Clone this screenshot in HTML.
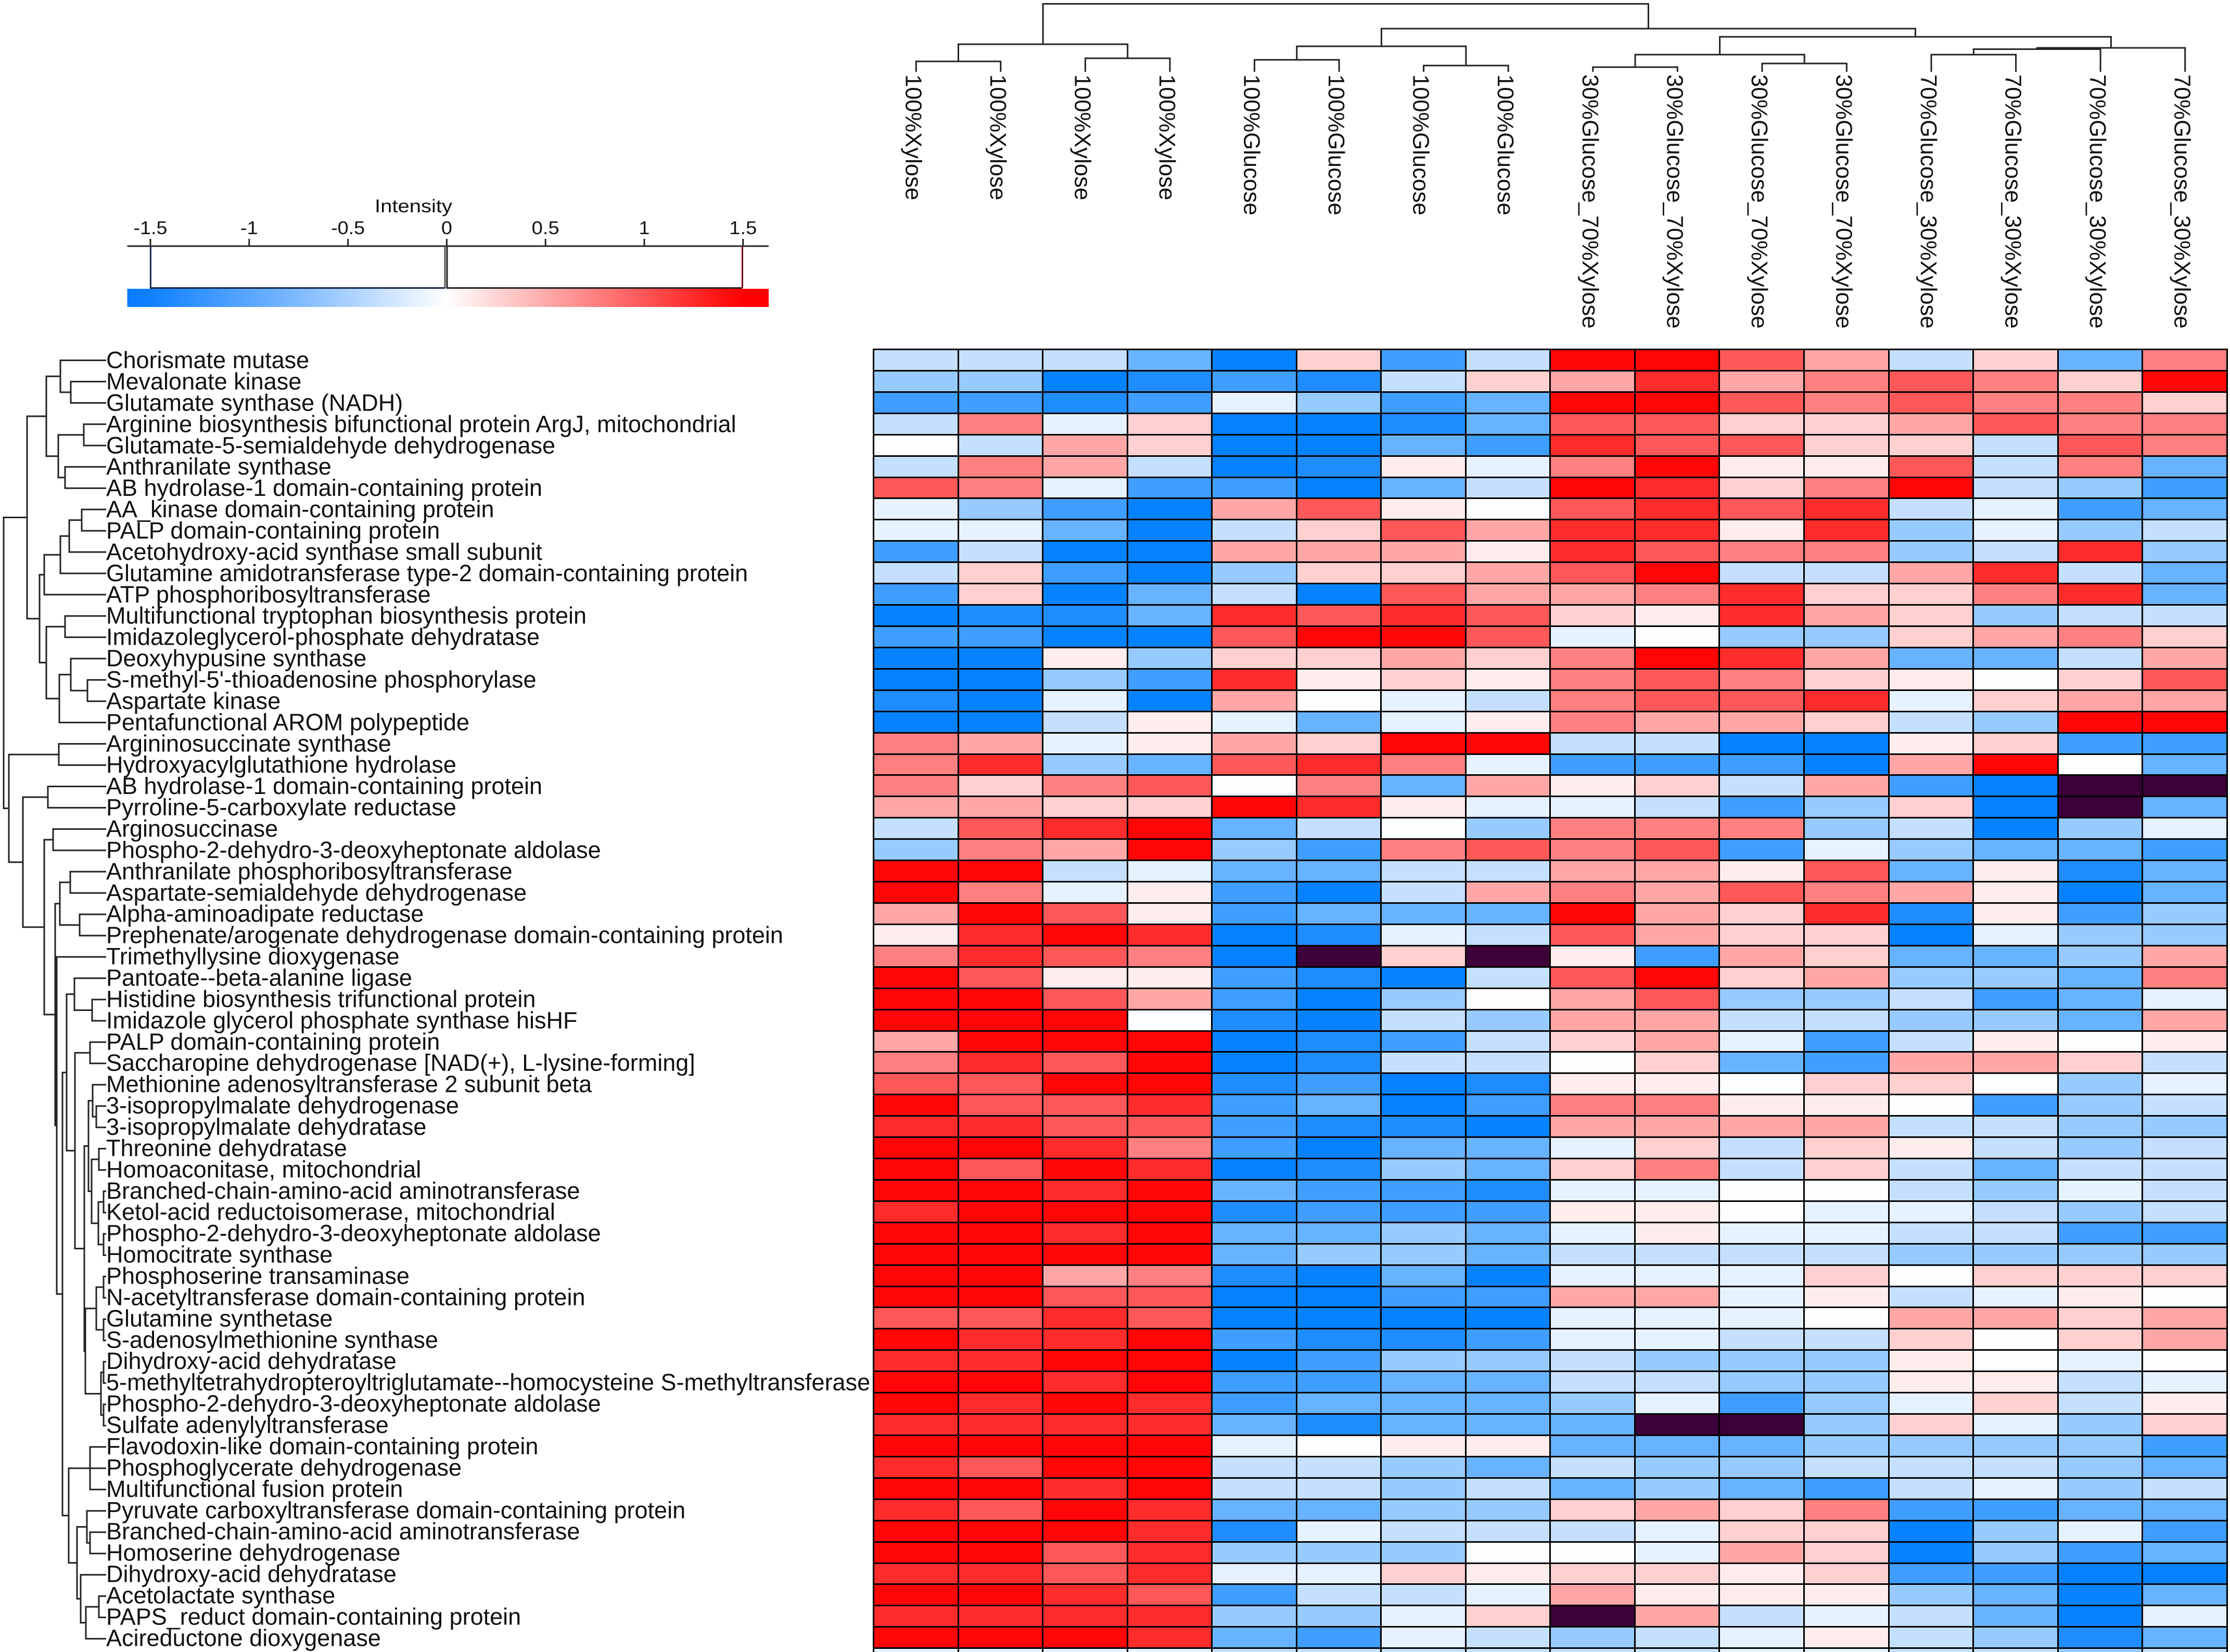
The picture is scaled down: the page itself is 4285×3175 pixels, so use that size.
<!DOCTYPE html>
<html><head><meta charset="utf-8"><style>
html,body{margin:0;padding:0;width:4285px;height:3175px;overflow:hidden;background:#fff}
body{position:relative;font-family:"Liberation Sans",Arial,sans-serif}
svg{position:absolute;left:0;top:0}
#hm{position:absolute;left:1677px;top:670px;display:grid;grid-template-columns:repeat(16,159.56px);grid-template-rows:repeat(62,37.93px);gap:3px;padding:3px;background:#000}
#hm i{display:block}
.a{background:#0582ff}.b{background:#1f8dff}.c{background:#3f9eff}.d{background:#68b3ff}.e{background:#97cbff}.f{background:#c5e0ff}.g{background:#e6f2ff}.w{background:#fdfeff}
.h{background:#ffeded}.i{background:#ffd0d0}.j{background:#ffa7a7}.k{background:#ff8080}.l{background:#ff5858}.m{background:#ff2c2c}.n{background:#ff0606}.x{background:#3d0038}
</style></head><body>
<svg width="4285" height="3175" viewBox="0 0 4285 3175" xmlns="http://www.w3.org/2000/svg">
<defs><linearGradient id="gr" x1="0" x2="1" y1="0" y2="0">
<stop offset="0" stop-color="#0a7cff"/><stop offset="0.036" stop-color="#0f80ff"/><stop offset="0.267" stop-color="#7fbaff"/><stop offset="0.498" stop-color="#ffffff"/><stop offset="0.73" stop-color="#ff8080"/><stop offset="0.96" stop-color="#ff0000"/><stop offset="1" stop-color="#ff0000"/>
</linearGradient></defs>
<!-- legend -->
<text x="720" y="408" font-size="35" textLength="149" lengthAdjust="spacingAndGlyphs" fill="#111">Intensity</text>
<g font-size="35" text-anchor="middle" fill="#111">
<text x="289" y="450" textLength="65" lengthAdjust="spacingAndGlyphs">-1.5</text>
<text x="478.8" y="450" textLength="34" lengthAdjust="spacingAndGlyphs">-1</text>
<text x="668.6" y="450" textLength="65" lengthAdjust="spacingAndGlyphs">-0.5</text>
<text x="858.4" y="450" textLength="21" lengthAdjust="spacingAndGlyphs">0</text>
<text x="1048.2" y="450" textLength="53" lengthAdjust="spacingAndGlyphs">0.5</text>
<text x="1238" y="450" textLength="21" lengthAdjust="spacingAndGlyphs">1</text>
<text x="1427.8" y="450" textLength="53" lengthAdjust="spacingAndGlyphs">1.5</text>
</g>
<path d="M244.5 473H1477M289 459V473M478.8 459V473M668.6 459V473M858.4 459V473M1048.2 459V473M1238 459V473M1427.8 459V473" stroke="#222" stroke-width="3" fill="none"/>
<rect x="244.5" y="555" width="1232.5" height="35" fill="url(#gr)"/>
<path d="M289.4 473V553.5H855" stroke="#14254a" stroke-width="3" fill="none"/>
<path d="M855 473V553.5" stroke="#555" stroke-width="3" fill="none"/>
<path d="M859 473V553.5H1426.5" stroke="#222" stroke-width="3" fill="none"/>
<path d="M1426.5 473V553.5" stroke="#6b0a0a" stroke-width="3" fill="none"/>
<!-- column dendrogram -->
<path fill="none" stroke="#222" stroke-width="3" d="M1760.3 138V118H1922.8V138M2085.4 138V112H2248V138M1841.5 118V85H2166.7V112M2410.5 138V115H2573.1V138M2735.6 138V126H2898.2V138M2491.8 115V89H2816.9V126M3060.8 138V129H3223.3V138M3385.9 138V122H3548.4V138M3142 129V105H3467.2V122M3711 138V105H3873.6V138M3792.3 105V94.5H4036.1V138M3914.2 94.5V92H4198.7V138M3304.6 105V70.7H4056.4V92M2654.4 89V55H3680.5V70.7M2004.1 85V7.4H3167.4V55"/>
<!-- column labels -->
<g font-size="43.5" fill="#111">
<text transform="translate(1740.3,143) rotate(90)">100%Xylose</text>
<text transform="translate(1902.8,143) rotate(90)">100%Xylose</text>
<text transform="translate(2065.4,143) rotate(90)">100%Xylose</text>
<text transform="translate(2228,143) rotate(90)">100%Xylose</text>
<text transform="translate(2390.5,143) rotate(90)">100%Glucose</text>
<text transform="translate(2553.1,143) rotate(90)">100%Glucose</text>
<text transform="translate(2715.6,143) rotate(90)">100%Glucose</text>
<text transform="translate(2878.2,143) rotate(90)">100%Glucose</text>
<text transform="translate(3040.8,143) rotate(90)">30%Glucose_70%Xylose</text>
<text transform="translate(3203.3,143) rotate(90)">30%Glucose_70%Xylose</text>
<text transform="translate(3365.9,143) rotate(90)">30%Glucose_70%Xylose</text>
<text transform="translate(3528.4,143) rotate(90)">30%Glucose_70%Xylose</text>
<text transform="translate(3691,143) rotate(90)">70%Glucose_30%Xylose</text>
<text transform="translate(3853.6,143) rotate(90)">70%Glucose_30%Xylose</text>
<text transform="translate(4016.1,143) rotate(90)">70%Glucose_30%Xylose</text>
<text transform="translate(4178.7,143) rotate(90)">70%Glucose_30%Xylose</text>
</g>
<!-- row dendrogram -->
<path fill="none" stroke="#222" stroke-width="3" d="M204 733.4H136V774.4H204M204 692.5H116V753.9H136M204 815.3H161V856.3H204M204 897.2H125V938.2H204M161 835.8H112V917.7H125M116 723.2H89V876.8H112M204 979.1H157V1020.1H204M157 999.6H133V1061H204M133 1030.3H116V1102H204M116 1066.2H85V1142.9H204M204 1183.9H125V1224.8H204M204 1306.7H168V1347.7H204M204 1265.8H136V1327.2H168M136 1296.5H114V1388.6H204M125 1204.4H89V1342.6H114M85 1104.5H76V1273.5H89M89 800H52V1189H76M52 994.5H7V1553.5H17
M204 1429.6H113V1470.5H204M113 1450.1H17V1657H44M204 1511.5H92V1552.4H204M92 1532H44V1781.9H85M204 1593.4H102V1634.3H204M102 1613.9H85V1949.9H106M204 1675.3H135V1716.2H204M204 1757.2H153V1798.1H204M135 1695.8H115V1777.7H153M115 1736.8H106V2163H109M204 1839.1H109V2487H120
M204 1921H177V1961.9H204M204 1880H143V1941.5H177M204 2002.9H173V2043.8H204M204 2125.7H185V2166.7H204M204 2084.8H178V2146.2H185M204 2207.6H190V2248.6H204M204 2289.5H199V2330.5H204M204 2371.4H199V2412.4H204M199 2310H189V2391.9H199M190 2228.1H176V2351H189M178 2115.5H170V2289.5H176M204 2453.3H199V2494.3H204M204 2535.2H199V2576.2H204M199 2473.8H185V2555.7H199M204 2617.1H199V2658.1H204M204 2699H199V2740H204M199 2637.6H194V2719.5H199M185 2514.8H164V2678.6H194M170 2202.5H162V2596.7H164M173 2023.4H144V2399.6H162M143 1910.8H128V2211.5H144
M204 2780.9H173V2862.8H204M173 2821.9H204M204 2944.7H173V2985.7H204M204 2903.8H167V2965.2H173M204 3067.6H190V3108.5H204M190 3088.1H165V3149.5H204M204 3026.6H155V3118.8H165M167 2934.5H148V3072.7H155M173 2821.9H132V3003.6H148M128 2061.2H120V2912.8H132"/>
<!-- row labels -->
<g font-size="45" fill="#111">
<text x="204" y="707.5">Chorismate mutase</text>
<text x="204" y="748.5">Mevalonate kinase</text>
<text x="204" y="789.4">Glutamate synthase (NADH)</text>
<text x="204" y="830.3">Arginine biosynthesis bifunctional protein ArgJ, mitochondrial</text>
<text x="204" y="871.3">Glutamate-5-semialdehyde dehydrogenase</text>
<text x="204" y="912.2">Anthranilate synthase</text>
<text x="204" y="953.1">AB hydrolase-1 domain-containing protein</text>
<text x="204" y="994">AA_kinase domain-containing protein</text>
<text x="204" y="1035">PALP domain-containing protein</text>
<text x="204" y="1075.9">Acetohydroxy-acid synthase small subunit</text>
<text x="204" y="1116.8">Glutamine amidotransferase type-2 domain-containing protein</text>
<text x="204" y="1157.8">ATP phosphoribosyltransferase</text>
<text x="204" y="1198.7">Multifunctional tryptophan biosynthesis protein</text>
<text x="204" y="1239.6">Imidazoleglycerol-phosphate dehydratase</text>
<text x="204" y="1280.6">Deoxyhypusine synthase</text>
<text x="204" y="1321.5">S-methyl-5'-thioadenosine phosphorylase</text>
<text x="204" y="1362.4">Aspartate kinase</text>
<text x="204" y="1403.3">Pentafunctional AROM polypeptide</text>
<text x="204" y="1444.3">Argininosuccinate synthase</text>
<text x="204" y="1485.2">Hydroxyacylglutathione hydrolase</text>
<text x="204" y="1526.1">AB hydrolase-1 domain-containing protein</text>
<text x="204" y="1567.1">Pyrroline-5-carboxylate reductase</text>
<text x="204" y="1608">Arginosuccinase</text>
<text x="204" y="1648.9">Phospho-2-dehydro-3-deoxyheptonate aldolase</text>
<text x="204" y="1689.9">Anthranilate phosphoribosyltransferase</text>
<text x="204" y="1730.8">Aspartate-semialdehyde dehydrogenase</text>
<text x="204" y="1771.7">Alpha-aminoadipate reductase</text>
<text x="204" y="1812.6">Prephenate/arogenate dehydrogenase domain-containing protein</text>
<text x="204" y="1853.6">Trimethyllysine dioxygenase</text>
<text x="204" y="1894.5">Pantoate--beta-alanine ligase</text>
<text x="204" y="1935.4">Histidine biosynthesis trifunctional protein</text>
<text x="204" y="1976.4">Imidazole glycerol phosphate synthase hisHF</text>
<text x="204" y="2017.3">PALP domain-containing protein</text>
<text x="204" y="2058.2">Saccharopine dehydrogenase [NAD(+), L-lysine-forming]</text>
<text x="204" y="2099.2">Methionine adenosyltransferase 2 subunit beta</text>
<text x="204" y="2140.1">3-isopropylmalate dehydrogenase</text>
<text x="204" y="2181">3-isopropylmalate dehydratase</text>
<text x="204" y="2221.9">Threonine dehydratase</text>
<text x="204" y="2262.9">Homoaconitase, mitochondrial</text>
<text x="204" y="2303.8">Branched-chain-amino-acid aminotransferase</text>
<text x="204" y="2344.7">Ketol-acid reductoisomerase, mitochondrial</text>
<text x="204" y="2385.7">Phospho-2-dehydro-3-deoxyheptonate aldolase</text>
<text x="204" y="2426.6">Homocitrate synthase</text>
<text x="204" y="2467.5">Phosphoserine transaminase</text>
<text x="204" y="2508.5">N-acetyltransferase domain-containing protein</text>
<text x="204" y="2549.4">Glutamine synthetase</text>
<text x="204" y="2590.3">S-adenosylmethionine synthase</text>
<text x="204" y="2631.2">Dihydroxy-acid dehydratase</text>
<text x="204" y="2672.2">5-methyltetrahydropteroyltriglutamate--homocysteine S-methyltransferase</text>
<text x="204" y="2713.1">Phospho-2-dehydro-3-deoxyheptonate aldolase</text>
<text x="204" y="2754">Sulfate adenylyltransferase</text>
<text x="204" y="2795">Flavodoxin-like domain-containing protein</text>
<text x="204" y="2835.9">Phosphoglycerate dehydrogenase</text>
<text x="204" y="2876.8">Multifunctional fusion protein</text>
<text x="204" y="2917.8">Pyruvate carboxyltransferase domain-containing protein</text>
<text x="204" y="2958.7">Branched-chain-amino-acid aminotransferase</text>
<text x="204" y="2999.6">Homoserine dehydrogenase</text>
<text x="204" y="3040.5">Dihydroxy-acid dehydratase</text>
<text x="204" y="3081.5">Acetolactate synthase</text>
<text x="204" y="3122.4">PAPS_reduct domain-containing protein</text>
<text x="204" y="3163.3">Acireductone dioxygenase</text>
</g>
</svg>
<div id="hm">
<i class=f></i><i class=f></i><i class=f></i><i class=d></i><i class=a></i><i class=i></i><i class=c></i><i class=f></i><i class=n></i><i class=n></i><i class=l></i><i class=j></i><i class=f></i><i class=i></i><i class=d></i><i class=k></i>
<i class=e></i><i class=e></i><i class=a></i><i class=b></i><i class=c></i><i class=b></i><i class=f></i><i class=i></i><i class=j></i><i class=m></i><i class=j></i><i class=k></i><i class=l></i><i class=k></i><i class=i></i><i class=n></i>
<i class=c></i><i class=c></i><i class=b></i><i class=c></i><i class=g></i><i class=e></i><i class=c></i><i class=d></i><i class=n></i><i class=n></i><i class=l></i><i class=k></i><i class=l></i><i class=k></i><i class=k></i><i class=i></i>
<i class=f></i><i class=k></i><i class=g></i><i class=i></i><i class=a></i><i class=a></i><i class=b></i><i class=d></i><i class=l></i><i class=l></i><i class=i></i><i class=i></i><i class=j></i><i class=l></i><i class=k></i><i class=k></i>
<i class=w></i><i class=f></i><i class=j></i><i class=i></i><i class=a></i><i class=a></i><i class=d></i><i class=c></i><i class=m></i><i class=l></i><i class=l></i><i class=i></i><i class=i></i><i class=f></i><i class=l></i><i class=k></i>
<i class=f></i><i class=k></i><i class=j></i><i class=f></i><i class=a></i><i class=b></i><i class=h></i><i class=g></i><i class=k></i><i class=n></i><i class=h></i><i class=h></i><i class=l></i><i class=f></i><i class=k></i><i class=d></i>
<i class=l></i><i class=k></i><i class=g></i><i class=c></i><i class=c></i><i class=a></i><i class=d></i><i class=f></i><i class=n></i><i class=m></i><i class=i></i><i class=k></i><i class=n></i><i class=f></i><i class=e></i><i class=c></i>
<i class=g></i><i class=e></i><i class=c></i><i class=a></i><i class=j></i><i class=l></i><i class=h></i><i class=w></i><i class=l></i><i class=m></i><i class=l></i><i class=m></i><i class=f></i><i class=g></i><i class=c></i><i class=d></i>
<i class=g></i><i class=g></i><i class=d></i><i class=a></i><i class=f></i><i class=i></i><i class=l></i><i class=j></i><i class=m></i><i class=m></i><i class=h></i><i class=m></i><i class=e></i><i class=g></i><i class=e></i><i class=f></i>
<i class=c></i><i class=f></i><i class=a></i><i class=a></i><i class=j></i><i class=j></i><i class=j></i><i class=h></i><i class=m></i><i class=l></i><i class=k></i><i class=k></i><i class=e></i><i class=f></i><i class=m></i><i class=e></i>
<i class=f></i><i class=i></i><i class=c></i><i class=a></i><i class=e></i><i class=i></i><i class=i></i><i class=j></i><i class=l></i><i class=n></i><i class=f></i><i class=f></i><i class=j></i><i class=m></i><i class=f></i><i class=d></i>
<i class=c></i><i class=i></i><i class=a></i><i class=d></i><i class=f></i><i class=a></i><i class=l></i><i class=j></i><i class=j></i><i class=k></i><i class=m></i><i class=i></i><i class=i></i><i class=k></i><i class=m></i><i class=d></i>
<i class=a></i><i class=b></i><i class=b></i><i class=d></i><i class=m></i><i class=l></i><i class=m></i><i class=l></i><i class=i></i><i class=h></i><i class=m></i><i class=j></i><i class=i></i><i class=e></i><i class=f></i><i class=f></i>
<i class=c></i><i class=c></i><i class=a></i><i class=a></i><i class=l></i><i class=n></i><i class=n></i><i class=l></i><i class=g></i><i class=w></i><i class=e></i><i class=e></i><i class=i></i><i class=j></i><i class=k></i><i class=i></i>
<i class=a></i><i class=a></i><i class=h></i><i class=e></i><i class=i></i><i class=i></i><i class=j></i><i class=i></i><i class=k></i><i class=n></i><i class=m></i><i class=j></i><i class=d></i><i class=d></i><i class=f></i><i class=j></i>
<i class=a></i><i class=a></i><i class=e></i><i class=c></i><i class=m></i><i class=h></i><i class=i></i><i class=h></i><i class=k></i><i class=l></i><i class=k></i><i class=i></i><i class=h></i><i class=w></i><i class=i></i><i class=l></i>
<i class=b></i><i class=a></i><i class=g></i><i class=a></i><i class=j></i><i class=w></i><i class=g></i><i class=f></i><i class=k></i><i class=l></i><i class=l></i><i class=m></i><i class=g></i><i class=i></i><i class=j></i><i class=j></i>
<i class=a></i><i class=a></i><i class=f></i><i class=h></i><i class=g></i><i class=d></i><i class=g></i><i class=h></i><i class=k></i><i class=j></i><i class=j></i><i class=i></i><i class=f></i><i class=e></i><i class=n></i><i class=n></i>
<i class=k></i><i class=j></i><i class=g></i><i class=h></i><i class=j></i><i class=i></i><i class=n></i><i class=n></i><i class=f></i><i class=f></i><i class=a></i><i class=a></i><i class=h></i><i class=i></i><i class=c></i><i class=c></i>
<i class=k></i><i class=m></i><i class=e></i><i class=d></i><i class=l></i><i class=m></i><i class=k></i><i class=g></i><i class=c></i><i class=c></i><i class=c></i><i class=a></i><i class=j></i><i class=n></i><i class=w></i><i class=d></i>
<i class=k></i><i class=i></i><i class=k></i><i class=l></i><i class=w></i><i class=k></i><i class=d></i><i class=j></i><i class=h></i><i class=i></i><i class=f></i><i class=j></i><i class=c></i><i class=a></i><i class=x></i><i class=x></i>
<i class=j></i><i class=j></i><i class=i></i><i class=i></i><i class=n></i><i class=m></i><i class=h></i><i class=g></i><i class=g></i><i class=f></i><i class=c></i><i class=e></i><i class=i></i><i class=a></i><i class=x></i><i class=d></i>
<i class=f></i><i class=l></i><i class=m></i><i class=n></i><i class=d></i><i class=f></i><i class=w></i><i class=e></i><i class=k></i><i class=k></i><i class=k></i><i class=e></i><i class=f></i><i class=a></i><i class=e></i><i class=g></i>
<i class=e></i><i class=k></i><i class=j></i><i class=n></i><i class=e></i><i class=c></i><i class=k></i><i class=l></i><i class=k></i><i class=l></i><i class=c></i><i class=g></i><i class=e></i><i class=d></i><i class=d></i><i class=c></i>
<i class=n></i><i class=n></i><i class=f></i><i class=g></i><i class=d></i><i class=d></i><i class=f></i><i class=f></i><i class=j></i><i class=j></i><i class=h></i><i class=l></i><i class=d></i><i class=h></i><i class=b></i><i class=d></i>
<i class=n></i><i class=k></i><i class=g></i><i class=h></i><i class=c></i><i class=a></i><i class=f></i><i class=j></i><i class=k></i><i class=j></i><i class=l></i><i class=k></i><i class=j></i><i class=h></i><i class=a></i><i class=d></i>
<i class=j></i><i class=n></i><i class=l></i><i class=h></i><i class=c></i><i class=d></i><i class=d></i><i class=d></i><i class=n></i><i class=j></i><i class=i></i><i class=m></i><i class=b></i><i class=h></i><i class=c></i><i class=e></i>
<i class=h></i><i class=m></i><i class=n></i><i class=m></i><i class=a></i><i class=b></i><i class=g></i><i class=f></i><i class=l></i><i class=j></i><i class=i></i><i class=i></i><i class=a></i><i class=g></i><i class=e></i><i class=e></i>
<i class=k></i><i class=m></i><i class=l></i><i class=k></i><i class=a></i><i class=x></i><i class=i></i><i class=x></i><i class=h></i><i class=c></i><i class=j></i><i class=i></i><i class=d></i><i class=d></i><i class=e></i><i class=j></i>
<i class=n></i><i class=l></i><i class=h></i><i class=h></i><i class=c></i><i class=b></i><i class=a></i><i class=f></i><i class=l></i><i class=n></i><i class=i></i><i class=j></i><i class=e></i><i class=e></i><i class=d></i><i class=k></i>
<i class=n></i><i class=n></i><i class=l></i><i class=j></i><i class=c></i><i class=a></i><i class=e></i><i class=w></i><i class=j></i><i class=l></i><i class=e></i><i class=e></i><i class=f></i><i class=c></i><i class=d></i><i class=g></i>
<i class=n></i><i class=n></i><i class=n></i><i class=w></i><i class=b></i><i class=a></i><i class=f></i><i class=e></i><i class=j></i><i class=j></i><i class=f></i><i class=f></i><i class=e></i><i class=e></i><i class=d></i><i class=j></i>
<i class=j></i><i class=n></i><i class=n></i><i class=n></i><i class=a></i><i class=b></i><i class=c></i><i class=f></i><i class=i></i><i class=j></i><i class=g></i><i class=c></i><i class=f></i><i class=h></i><i class=w></i><i class=h></i>
<i class=k></i><i class=m></i><i class=l></i><i class=n></i><i class=a></i><i class=b></i><i class=f></i><i class=f></i><i class=w></i><i class=i></i><i class=d></i><i class=c></i><i class=j></i><i class=j></i><i class=i></i><i class=f></i>
<i class=l></i><i class=l></i><i class=n></i><i class=n></i><i class=b></i><i class=c></i><i class=a></i><i class=b></i><i class=h></i><i class=h></i><i class=w></i><i class=i></i><i class=i></i><i class=w></i><i class=e></i><i class=g></i>
<i class=n></i><i class=l></i><i class=l></i><i class=m></i><i class=c></i><i class=d></i><i class=a></i><i class=c></i><i class=k></i><i class=k></i><i class=h></i><i class=h></i><i class=w></i><i class=c></i><i class=e></i><i class=f></i>
<i class=m></i><i class=m></i><i class=l></i><i class=l></i><i class=c></i><i class=b></i><i class=b></i><i class=a></i><i class=j></i><i class=j></i><i class=j></i><i class=j></i><i class=f></i><i class=f></i><i class=e></i><i class=e></i>
<i class=n></i><i class=n></i><i class=m></i><i class=k></i><i class=c></i><i class=a></i><i class=d></i><i class=d></i><i class=g></i><i class=i></i><i class=f></i><i class=i></i><i class=h></i><i class=f></i><i class=e></i><i class=f></i>
<i class=n></i><i class=l></i><i class=n></i><i class=m></i><i class=a></i><i class=b></i><i class=e></i><i class=d></i><i class=i></i><i class=k></i><i class=f></i><i class=i></i><i class=f></i><i class=d></i><i class=f></i><i class=f></i>
<i class=n></i><i class=n></i><i class=m></i><i class=n></i><i class=d></i><i class=c></i><i class=c></i><i class=b></i><i class=g></i><i class=g></i><i class=w></i><i class=w></i><i class=f></i><i class=e></i><i class=g></i><i class=f></i>
<i class=m></i><i class=n></i><i class=n></i><i class=n></i><i class=b></i><i class=c></i><i class=c></i><i class=c></i><i class=h></i><i class=h></i><i class=w></i><i class=g></i><i class=g></i><i class=f></i><i class=e></i><i class=f></i>
<i class=n></i><i class=n></i><i class=m></i><i class=n></i><i class=d></i><i class=d></i><i class=e></i><i class=d></i><i class=g></i><i class=h></i><i class=g></i><i class=g></i><i class=f></i><i class=f></i><i class=c></i><i class=c></i>
<i class=n></i><i class=n></i><i class=n></i><i class=n></i><i class=d></i><i class=e></i><i class=e></i><i class=d></i><i class=f></i><i class=f></i><i class=f></i><i class=f></i><i class=e></i><i class=e></i><i class=e></i><i class=e></i>
<i class=n></i><i class=n></i><i class=j></i><i class=k></i><i class=b></i><i class=a></i><i class=d></i><i class=a></i><i class=g></i><i class=g></i><i class=g></i><i class=i></i><i class=w></i><i class=i></i><i class=i></i><i class=i></i>
<i class=n></i><i class=n></i><i class=l></i><i class=l></i><i class=a></i><i class=a></i><i class=c></i><i class=c></i><i class=j></i><i class=j></i><i class=g></i><i class=h></i><i class=f></i><i class=g></i><i class=h></i><i class=w></i>
<i class=l></i><i class=l></i><i class=m></i><i class=l></i><i class=a></i><i class=a></i><i class=a></i><i class=a></i><i class=g></i><i class=g></i><i class=g></i><i class=w></i><i class=j></i><i class=j></i><i class=i></i><i class=j></i>
<i class=n></i><i class=m></i><i class=m></i><i class=n></i><i class=c></i><i class=b></i><i class=b></i><i class=c></i><i class=g></i><i class=g></i><i class=f></i><i class=f></i><i class=i></i><i class=w></i><i class=i></i><i class=j></i>
<i class=m></i><i class=m></i><i class=n></i><i class=n></i><i class=a></i><i class=c></i><i class=e></i><i class=e></i><i class=f></i><i class=e></i><i class=e></i><i class=e></i><i class=h></i><i class=w></i><i class=g></i><i class=w></i>
<i class=n></i><i class=n></i><i class=m></i><i class=n></i><i class=c></i><i class=c></i><i class=d></i><i class=d></i><i class=f></i><i class=f></i><i class=e></i><i class=e></i><i class=h></i><i class=h></i><i class=f></i><i class=g></i>
<i class=n></i><i class=m></i><i class=n></i><i class=m></i><i class=c></i><i class=d></i><i class=d></i><i class=d></i><i class=e></i><i class=g></i><i class=c></i><i class=e></i><i class=g></i><i class=i></i><i class=f></i><i class=h></i>
<i class=m></i><i class=m></i><i class=m></i><i class=m></i><i class=d></i><i class=b></i><i class=d></i><i class=d></i><i class=d></i><i class=x></i><i class=x></i><i class=e></i><i class=i></i><i class=g></i><i class=e></i><i class=i></i>
<i class=n></i><i class=n></i><i class=n></i><i class=n></i><i class=g></i><i class=w></i><i class=h></i><i class=h></i><i class=d></i><i class=d></i><i class=d></i><i class=e></i><i class=e></i><i class=e></i><i class=e></i><i class=c></i>
<i class=m></i><i class=l></i><i class=n></i><i class=n></i><i class=f></i><i class=f></i><i class=e></i><i class=d></i><i class=f></i><i class=e></i><i class=e></i><i class=f></i><i class=f></i><i class=f></i><i class=e></i><i class=d></i>
<i class=n></i><i class=n></i><i class=m></i><i class=n></i><i class=f></i><i class=f></i><i class=e></i><i class=f></i><i class=d></i><i class=e></i><i class=d></i><i class=c></i><i class=f></i><i class=g></i><i class=e></i><i class=f></i>
<i class=m></i><i class=l></i><i class=n></i><i class=m></i><i class=d></i><i class=d></i><i class=e></i><i class=e></i><i class=i></i><i class=j></i><i class=i></i><i class=k></i><i class=c></i><i class=c></i><i class=d></i><i class=d></i>
<i class=n></i><i class=n></i><i class=n></i><i class=m></i><i class=b></i><i class=g></i><i class=f></i><i class=f></i><i class=f></i><i class=g></i><i class=i></i><i class=i></i><i class=a></i><i class=e></i><i class=g></i><i class=c></i>
<i class=n></i><i class=n></i><i class=l></i><i class=m></i><i class=e></i><i class=e></i><i class=e></i><i class=w></i><i class=w></i><i class=g></i><i class=j></i><i class=i></i><i class=a></i><i class=e></i><i class=c></i><i class=d></i>
<i class=m></i><i class=m></i><i class=l></i><i class=m></i><i class=g></i><i class=g></i><i class=i></i><i class=h></i><i class=i></i><i class=i></i><i class=h></i><i class=i></i><i class=c></i><i class=c></i><i class=a></i><i class=a></i>
<i class=n></i><i class=n></i><i class=m></i><i class=l></i><i class=c></i><i class=f></i><i class=f></i><i class=g></i><i class=j></i><i class=h></i><i class=h></i><i class=h></i><i class=e></i><i class=d></i><i class=a></i><i class=d></i>
<i class=m></i><i class=m></i><i class=m></i><i class=m></i><i class=e></i><i class=e></i><i class=g></i><i class=i></i><i class=x></i><i class=j></i><i class=f></i><i class=g></i><i class=f></i><i class=d></i><i class=a></i><i class=g></i>
<i class=n></i><i class=n></i><i class=n></i><i class=m></i><i class=d></i><i class=c></i><i class=g></i><i class=f></i><i class=e></i><i class=f></i><i class=g></i><i class=h></i><i class=f></i><i class=e></i><i class=b></i><i class=d></i>
<i class=g></i><i class=g></i><i class=g></i><i class=g></i><i class=f></i><i class=f></i><i class=f></i><i class=f></i><i class=f></i><i class=f></i><i class=g></i><i class=g></i><i class=f></i><i class=f></i><i class=e></i><i class=f></i>
</div>
</body></html>
